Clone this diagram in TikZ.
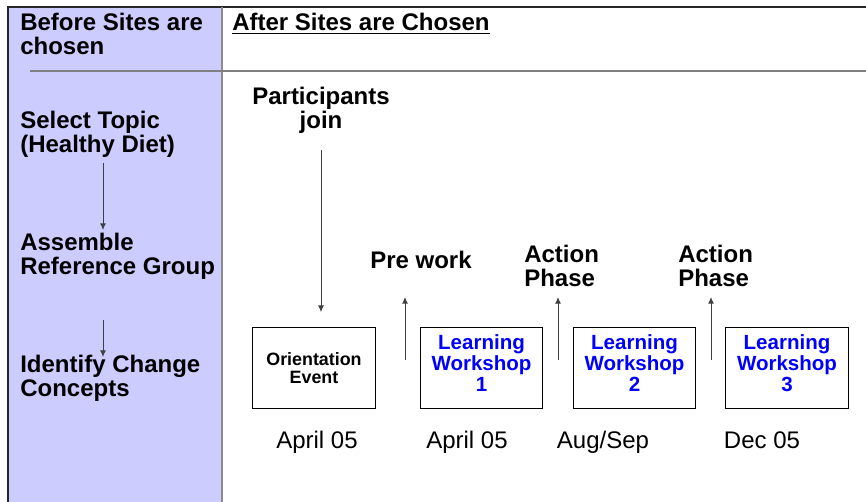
\documentclass[tikz,border=0pt]{standalone}
\usepackage{fontspec}
\setmainfont{Liberation Sans}
\usetikzlibrary{arrows.meta}
\definecolor{panelblue}{RGB}{204,204,255}
\definecolor{wsblue}{RGB}{0,0,255}
\tikzset{
  bigbold/.style={font=\fontsize{18}{18}\selectfont\bfseries, inner sep=0pt},
  datelbl/.style={font=\fontsize{18}{18}\selectfont, inner sep=0pt, anchor=base},
  stagebox/.style={draw=black, line width=0.8pt, minimum width=92pt, minimum height=61pt,
    align=center, inner sep=0pt},
  flow/.style={-{Latex[length=5pt,width=4.5pt]}, line width=0.75pt, black!75}
}
\begin{document}
\begin{tikzpicture}[x=0.75pt,y=-0.75pt]
\useasboundingbox (0,0) rectangle (866,502);

% side panel and frame lines
\fill[panelblue] (8,7) rectangle (222,502);
\draw[line width=1pt, black!85] (8,502) -- (8,7) -- (866,7);
\draw[line width=1pt, black!45] (222,7) -- (222,502);
\draw[line width=1.6pt, black!50] (30,71) -- (866,71);

% headings (base = last line)
\node[bigbold, anchor=base west, align=left] (before) at (20,55) {Before Sites are\\chosen};
\node[bigbold, anchor=base west] (after) at (232,31) {\underline{After Sites are Chosen}};

% steps before the sites
\node[bigbold, anchor=base west, align=left] (topic) at (20,153) {Select Topic\\(Healthy Diet)};
\node[bigbold, anchor=base west, align=left] (assemble) at (20,274) {Assemble\\Reference Group};
\node[bigbold, anchor=base west, align=left] (identify) at (20,396) {Identify Change\\Concepts};
\coordinate (a1) at (103,163);
\coordinate (a2) at (103,320);
\draw[flow] (a1) -- ++(0,67);
\draw[flow] (a2) -- ++(0,37);

% stages after the sites
\node[stagebox, font=\fontsize{13.4}{13.5}\selectfont\bfseries] (orient) at (314,368) {Orientation\\Event};
\node[stagebox, text=wsblue, text depth=7pt, font=\fontsize{15.4}{15.75}\selectfont\bfseries] (ws1) at (481.5,368) {Learning\\Workshop\\1};
\node[stagebox, text=wsblue, text depth=7pt, font=\fontsize{15.4}{15.75}\selectfont\bfseries] (ws2) at (634.5,368) {Learning\\Workshop\\2};
\node[stagebox, text=wsblue, text depth=7pt, font=\fontsize{15.4}{15.75}\selectfont\bfseries] (ws3) at (787,368) {Learning\\Workshop\\3};

% dates
\node[datelbl] (d0) at (317,448) {April 05};
\node[datelbl] (d1) at (467,448) {April 05};
\node[datelbl] (d2) at (603,448) {Aug/Sep};
\node[datelbl] (d3) at (762,448) {Dec 05};

% phase labels
\node[bigbold, anchor=base, align=center] (join) at (321,129) {Participants\\join};
\node[bigbold, anchor=base west] (prework) at (370,268) {Pre work};
\node[bigbold, anchor=base west, align=left] (act1) at (524,286) {Action\\Phase};
\node[bigbold, anchor=base west, align=left] (act2) at (678,286) {Action\\Phase};

\coordinate (j0) at (321,150);
\draw[flow, shorten >=11pt] (j0) -- (j0 |- orient.north);
\coordinate (p0) at (405,360);
\coordinate (p1) at (558,360);
\coordinate (p2) at (711,360);
\foreach \c in {p0,p1,p2}
  \draw[flow] (\c) -- ++(0,-63);
\end{tikzpicture}
\end{document}
